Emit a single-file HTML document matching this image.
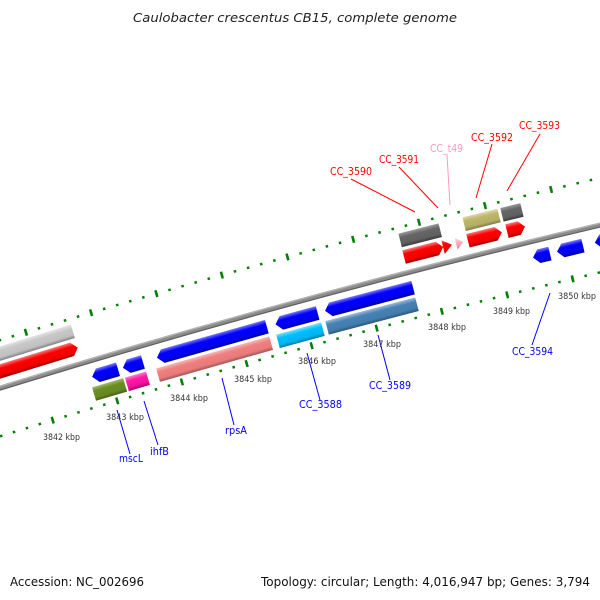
<!DOCTYPE html>
<html><head><meta charset="utf-8"><style>
html,body{margin:0;padding:0;background:#fff;width:600px;height:600px;overflow:hidden;}
svg{display:block;overflow:hidden;}
</style></head><body>
<svg width="600" height="600" viewBox="0 0 600 600" xmlns="http://www.w3.org/2000/svg">
<defs>
<clipPath id="clipAll"><rect x="0" y="0" width="600" height="600"/></clipPath>
<linearGradient id="gRed" x1="0" y1="0" x2="0" y2="1"><stop offset="0" stop-color="#ff7a7a"/><stop offset="0.3" stop-color="#ff0000"/><stop offset="0.75" stop-color="#f00000"/><stop offset="1" stop-color="#a00000"/></linearGradient>
<linearGradient id="gBlue" x1="0" y1="0" x2="0" y2="1"><stop offset="0" stop-color="#7a7aff"/><stop offset="0.3" stop-color="#0000ff"/><stop offset="0.75" stop-color="#0000f0"/><stop offset="1" stop-color="#0000a0"/></linearGradient>
<linearGradient id="gLGrey" x1="0" y1="0" x2="0" y2="1"><stop offset="0" stop-color="#e4e4e4"/><stop offset="0.3" stop-color="#c8c8c8"/><stop offset="0.75" stop-color="#c0c0c0"/><stop offset="1" stop-color="#808080"/></linearGradient>
<linearGradient id="gDGrey" x1="0" y1="0" x2="0" y2="1"><stop offset="0" stop-color="#9a9a9a"/><stop offset="0.3" stop-color="#666"/><stop offset="0.75" stop-color="#606060"/><stop offset="1" stop-color="#3a3a3a"/></linearGradient>
<linearGradient id="gKhaki" x1="0" y1="0" x2="0" y2="1"><stop offset="0" stop-color="#ddd8a8"/><stop offset="0.3" stop-color="#bdb76b"/><stop offset="0.75" stop-color="#b5af65"/><stop offset="1" stop-color="#7e7a48"/></linearGradient>
<linearGradient id="gOlive" x1="0" y1="0" x2="0" y2="1"><stop offset="0" stop-color="#a0b870"/><stop offset="0.3" stop-color="#6b8e23"/><stop offset="0.75" stop-color="#668820"/><stop offset="1" stop-color="#45601a"/></linearGradient>
<linearGradient id="gMag" x1="0" y1="0" x2="0" y2="1"><stop offset="0" stop-color="#ff80c8"/><stop offset="0.3" stop-color="#ff1aa8"/><stop offset="0.75" stop-color="#f0109c"/><stop offset="1" stop-color="#a00a68"/></linearGradient>
<linearGradient id="gSalmon" x1="0" y1="0" x2="0" y2="1"><stop offset="0" stop-color="#f8b8b8"/><stop offset="0.3" stop-color="#f08080"/><stop offset="0.75" stop-color="#e87a7a"/><stop offset="1" stop-color="#a05555"/></linearGradient>
<linearGradient id="gCyan" x1="0" y1="0" x2="0" y2="1"><stop offset="0" stop-color="#80e0ff"/><stop offset="0.3" stop-color="#00bfff"/><stop offset="0.75" stop-color="#00b4f0"/><stop offset="1" stop-color="#007aa8"/></linearGradient>
<linearGradient id="gSteel" x1="0" y1="0" x2="0" y2="1"><stop offset="0" stop-color="#9cbcd8"/><stop offset="0.3" stop-color="#4682b4"/><stop offset="0.75" stop-color="#427cac"/><stop offset="1" stop-color="#2c5578"/></linearGradient>
<linearGradient id="gPink" x1="0" y1="0" x2="0" y2="1"><stop offset="0" stop-color="#ffd8e0"/><stop offset="0.4" stop-color="#ffb6c1"/><stop offset="1" stop-color="#d08a98"/></linearGradient>
</defs>
<g clip-path="url(#clipAll)">
<path d="M -75.9 460.3 A 9060 9060 0 0 1 703.9 248.4" fill="none" stroke="#008000" stroke-width="2.5" stroke-dasharray="2.5 10.97" stroke-dashoffset="1.25"/>
<path d="M -75.9 460.3 A 9060 9060 0 0 1 703.9 248.4" fill="none" stroke="#008000" stroke-width="7" stroke-dasharray="2.5 64.86" stroke-dashoffset="1.25"/>
<path d="M -104.0 372.8 A 9152 9152 0 0 1 683.7 158.7" fill="none" stroke="#008000" stroke-width="2.5" stroke-dasharray="2.5 11.11" stroke-dashoffset="1.25"/>
<path d="M -104.0 372.8 A 9152 9152 0 0 1 683.7 158.7" fill="none" stroke="#008000" stroke-width="7" stroke-dasharray="2.5 65.54" stroke-dashoffset="1.25"/>

<path d="M -90.0 416.4 A 9106 9106 0 0 1 693.8 203.5" fill="none" stroke="#8c8c8c" stroke-width="5"/>
<path d="M -90.5 414.7 A 9107.8 9107.8 0 0 1 693.4 201.7" fill="none" stroke="#b4b4b4" stroke-width="1.4"/>
<path d="M -89.4 418.3 A 9104 9104 0 0 1 694.2 205.4" fill="none" stroke="#606060" stroke-width="1.2"/>

<g transform="rotate(-16.984 2686 9089) translate(2686 -50)"><rect x="-59" y="-7" width="118" height="14" fill="url(#gLGrey)"/></g>
<g transform="rotate(-14.355 2686 9089) translate(2686 -50)"><rect x="-20.7" y="-7" width="41.4" height="14" fill="url(#gDGrey)"/></g>
<g transform="rotate(-13.958 2686 9089) translate(2686 -50)"><rect x="-18" y="-7" width="36" height="14" fill="url(#gKhaki)"/></g>
<g transform="rotate(-13.762 2686 9089) translate(2686 -50)"><rect x="-10.3" y="-7" width="20.6" height="14" fill="url(#gDGrey)"/></g>

<g transform="rotate(-17.000 2686 9089) translate(2686 -33)"><polygon points="-61.5,-7 55.5,-7 61.5,0 55.5,7 -61.5,7" fill="url(#gRed)"/></g>
<g transform="rotate(-14.360 2686 9089) translate(2686 -33)"><polygon points="-20.2,-7 14.2,-7 20.2,0 14.2,7 -20.2,7" fill="url(#gRed)"/></g>
<g transform="rotate(-14.205 2686 9089) translate(2686 -33)"><polygon points="-4.6,-7 4.6,0 -4.6,7" fill="url(#gRed)"/></g>
<g transform="rotate(-14.127 2686 9089) translate(2686 -33)"><polygon points="-3.6,-6 3.6,0 -3.6,6" fill="url(#gPink)"/></g>
<g transform="rotate(-13.963 2686 9089) translate(2686 -33)"><polygon points="-17.5,-7 11.5,-7 17.5,0 11.5,7 -17.5,7" fill="url(#gRed)"/></g>
<g transform="rotate(-13.762 2686 9089) translate(2686 -33)"><polygon points="-9.3,-7 3.3,-7 9.3,0 3.3,7 -9.3,7" fill="url(#gRed)"/></g>

<g transform="rotate(-16.495 2686 9089) translate(2686 -1)"><polygon points="13.5,-7 -7.5,-7 -13.5,0 -7.5,7 13.5,7" fill="url(#gBlue)"/></g>
<g transform="rotate(-16.312 2686 9089) translate(2686 -1)"><polygon points="10.4,-7 -4.4,-7 -10.4,0 -4.4,7 10.4,7" fill="url(#gBlue)"/></g>
<g transform="rotate(-15.794 2686 9089) translate(2686 -1)"><polygon points="57.1,-7 -51.1,-7 -57.1,0 -51.1,7 57.1,7" fill="url(#gBlue)"/></g>
<g transform="rotate(-15.240 2686 9089) translate(2686 -1)"><polygon points="21.8,-7 -15.8,-7 -21.8,0 -15.8,7 21.8,7" fill="url(#gBlue)"/></g>
<g transform="rotate(-14.767 2686 9089) translate(2686 -1)"><polygon points="45.5,-7 -39.5,-7 -45.5,0 -39.5,7 45.5,7" fill="url(#gBlue)"/></g>
<g transform="rotate(-13.646 2686 9089) translate(2686 -1)"><polygon points="8.7,-7 -2.7,-7 -8.7,0 -2.7,7 8.7,7" fill="url(#gBlue)"/></g>
<g transform="rotate(-13.461 2686 9089) translate(2686 -1)"><polygon points="13.3,-7 -7.3,-7 -13.3,0 -7.3,7 13.3,7" fill="url(#gBlue)"/></g>
<g transform="rotate(-13.202 2686 9089) translate(2686 -1)"><polygon points="15.5,-7 -9.5,-7 -15.5,0 -9.5,7 15.5,7" fill="url(#gBlue)"/></g>

<g transform="rotate(-16.497 2686 9089) translate(2686 16)"><rect x="-16.2" y="-7" width="32.4" height="14" fill="url(#gOlive)"/></g>
<g transform="rotate(-16.314 2686 9089) translate(2686 16)"><rect x="-10.9" y="-7" width="21.9" height="14" fill="url(#gMag)"/></g>
<g transform="rotate(-15.807 2686 9089) translate(2686 16)"><rect x="-58.7" y="-7" width="117.5" height="14" fill="url(#gSalmon)"/></g>
<g transform="rotate(-15.244 2686 9089) translate(2686 16)"><rect x="-23.3" y="-7" width="46.6" height="14" fill="url(#gCyan)"/></g>
<g transform="rotate(-14.776 2686 9089) translate(2686 16)"><rect x="-46.5" y="-7" width="93" height="14" fill="url(#gSteel)"/></g>
</g>

<g stroke-width="1" fill="none">
<line x1="351" y1="179" x2="415" y2="212" stroke="#ff0000"/>
<line x1="399" y1="167" x2="438" y2="208" stroke="#ff0000"/>
<line x1="447" y1="155" x2="450" y2="205" stroke="#ff99bb"/>
<line x1="492" y1="144" x2="476" y2="198" stroke="#ff0000"/>
<line x1="540" y1="134" x2="507" y2="191" stroke="#ff0000"/>
<line x1="117" y1="410" x2="130" y2="454" stroke="#0000ff"/>
<line x1="144" y1="401" x2="158" y2="445" stroke="#0000ff"/>
<line x1="222" y1="378" x2="234" y2="425" stroke="#0000ff"/>
<line x1="307" y1="353" x2="320" y2="400" stroke="#0000ff"/>
<line x1="378" y1="335" x2="390" y2="380" stroke="#0000ff"/>
<line x1="550" y1="293" x2="532" y2="345" stroke="#0000ff"/>
</g>

<g font-family="DejaVu Sans, Liberation Sans, sans-serif" font-size="10.5">
<text x="330" y="175" fill="#ff0000" textLength="42" lengthAdjust="spacingAndGlyphs">CC_3590</text>
<text x="379" y="163" fill="#ff0000" textLength="40" lengthAdjust="spacingAndGlyphs">CC_3591</text>
<text x="430" y="152" fill="#ff99bb" textLength="33" lengthAdjust="spacingAndGlyphs">CC_t49</text>
<text x="471" y="141" fill="#ff0000" textLength="42" lengthAdjust="spacingAndGlyphs">CC_3592</text>
<text x="519" y="129" fill="#ff0000" textLength="41" lengthAdjust="spacingAndGlyphs">CC_3593</text>
<text x="119" y="462" fill="#0000ff" textLength="24" lengthAdjust="spacingAndGlyphs">mscL</text>
<text x="150" y="455" fill="#0000ff" textLength="19" lengthAdjust="spacingAndGlyphs">ihfB</text>
<text x="225" y="434" fill="#0000ff" textLength="22" lengthAdjust="spacingAndGlyphs">rpsA</text>
<text x="299" y="408" fill="#0000ff" textLength="43" lengthAdjust="spacingAndGlyphs">CC_3588</text>
<text x="369" y="389" fill="#0000ff" textLength="42" lengthAdjust="spacingAndGlyphs">CC_3589</text>
<text x="512" y="355" fill="#0000ff" textLength="41" lengthAdjust="spacingAndGlyphs">CC_3594</text>
</g>
<g font-family="DejaVu Sans, Liberation Sans, sans-serif" font-size="8.5" fill="#333">
<text x="43" y="440" textLength="37" lengthAdjust="spacingAndGlyphs">3842 kbp</text>
<text x="106" y="420" textLength="38" lengthAdjust="spacingAndGlyphs">3843 kbp</text>
<text x="170" y="401" textLength="38" lengthAdjust="spacingAndGlyphs">3844 kbp</text>
<text x="234" y="382" textLength="38" lengthAdjust="spacingAndGlyphs">3845 kbp</text>
<text x="298" y="364" textLength="38" lengthAdjust="spacingAndGlyphs">3846 kbp</text>
<text x="363" y="347" textLength="38" lengthAdjust="spacingAndGlyphs">3847 kbp</text>
<text x="428" y="330" textLength="38" lengthAdjust="spacingAndGlyphs">3848 kbp</text>
<text x="493" y="314" textLength="37" lengthAdjust="spacingAndGlyphs">3849 kbp</text>
<text x="558" y="299" textLength="38" lengthAdjust="spacingAndGlyphs">3850 kbp</text>
</g>

<text x="133" y="22" font-family="DejaVu Sans, Liberation Sans, sans-serif" font-size="12.5" font-style="italic" fill="#222" textLength="324" lengthAdjust="spacingAndGlyphs">Caulobacter crescentus CB15, complete genome</text>
<text x="10" y="586" font-family="DejaVu Sans, Liberation Sans, sans-serif" font-size="12.5" fill="#111" textLength="134" lengthAdjust="spacingAndGlyphs">Accession: NC_002696</text>
<text x="261" y="586" font-family="DejaVu Sans, Liberation Sans, sans-serif" font-size="12.5" fill="#111" textLength="329" lengthAdjust="spacingAndGlyphs">Topology: circular; Length: 4,016,947 bp; Genes: 3,794</text>
</svg>
</body></html>
